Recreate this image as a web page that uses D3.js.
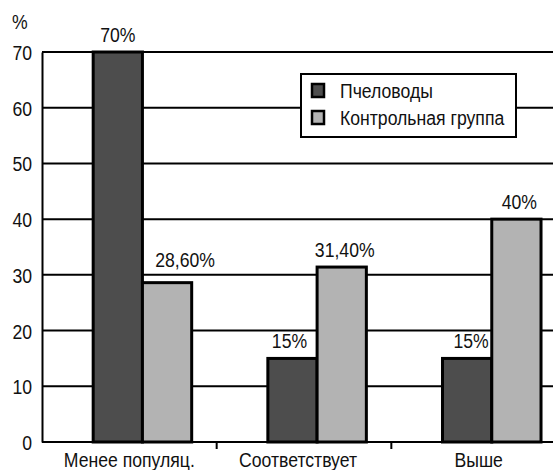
<!DOCTYPE html>
<html>
<head>
<meta charset="utf-8">
<script src="https://cdn.jsdelivr.net/npm/d3@7"></script>
<style>
  html, body { margin: 0; padding: 0; background: #fff; }
  svg { display: block; }
  text { font-family: "Liberation Sans", Arial, sans-serif; fill: #111; }
</style>
</head>
<body>
<svg id="chart" width="553" height="470"></svg>
<script>
// Categories and series
const categories = ["Менее популяц.", "Соответствует", "Выше"];
const seriesNames = ["Пчеловоды", "Контрольная группа"];
const beekeepers = [70, 15, 15];
const control = [28.6, 31.4, 40];
const beekeeperLabels = ["70%", "15%", "15%"];
const controlLabels = ["28,60%", "31,40%", "40%"];
const yTicks = [0, 10, 20, 30, 40, 50, 60, 70];

const colors = ["#4d4d4d", "#b3b3b3"];
const FS = 21;        // font size
const NARROW = 0.84;  // horizontal squeeze for a narrow typeface look

const svg = d3.select("#chart");
const margin = { left: 42, top: 52, bottom: 442 };
const plotRight = 566;

const x0 = d3.scaleBand().domain(categories).range([margin.left, plotRight]).padding(0);
const bw = x0.bandwidth();
const x1 = d3.scaleBand().domain(seriesNames).range([bw * 0.293, bw * 0.857]).padding(0);
const y = d3.scaleLinear().domain([0, 70]).range([margin.bottom, margin.top]);

// Place a narrow text item at (x, y)
function narrow(sel, fx, fy) {
  return sel.attr("x", 0).attr("y", 0)
    .attr("font-size", FS)
    .attr("transform", (d, i) => `translate(${fx(d, i)},${fy(d, i)}) scale(${NARROW},1)`);
}

// Horizontal gridlines
svg.append("g").selectAll("line")
  .data(yTicks.filter(d => d > 0))
  .join("line")
  .attr("x1", margin.left).attr("x2", 553)
  .attr("y1", d => y(d)).attr("y2", d => y(d))
  .attr("stroke", "#000").attr("stroke-width", 2);

// Y axis
const yAxis = d3.axisLeft(y).tickValues(yTicks).tickSize(0).tickPadding(10);
const gy = svg.append("g").attr("transform", `translate(${margin.left},0)`).call(yAxis);
gy.select(".domain").attr("stroke", "#000").attr("stroke-width", 2);
gy.selectAll(".tick text")
  .attr("font-family", null)
  .attr("fill", "#111")
  .attr("dy", "0.36em")
  .attr("font-size", FS)
  .attr("x", null)
  .attr("transform", `translate(-10,0) scale(${NARROW},1)`);

narrow(svg.append("text").datum("%").text("%"), () => 12, () => 29);

// Bars
const rows = categories.map((c, i) => ({ cat: c, vals: [beekeepers[i], control[i]] }));
const groups = svg.append("g").selectAll("g")
  .data(rows).join("g")
  .attr("transform", d => `translate(${x0(d.cat)},0)`);

groups.selectAll("rect")
  .data(d => d.vals.map((v, j) => ({ name: seriesNames[j], v, j })))
  .join("rect")
  .attr("x", d => x1(d.name))
  .attr("width", x1.bandwidth())
  .attr("y", d => y(d.v))
  .attr("height", d => y(0) - y(d.v))
  .attr("fill", d => colors[d.j])
  .attr("stroke", "#000").attr("stroke-width", 3);

// X axis along the bottom with boundary ticks between categories
const gx = svg.append("g");
gx.append("line").attr("x1", margin.left).attr("x2", 553)
  .attr("y1", y(0)).attr("y2", y(0)).attr("stroke", "#000").attr("stroke-width", 2);
gx.selectAll("line.tick")
  .data(categories.slice(1))
  .join("line").attr("class", "tick")
  .attr("x1", d => x0(d)).attr("x2", d => x0(d))
  .attr("y1", y(0)).attr("y2", y(0) + 7)
  .attr("stroke", "#000").attr("stroke-width", 2);
narrow(gx.selectAll("text").data(categories).join("text")
  .attr("text-anchor", "middle").text(d => d),
  (d, i) => x0(d) + bw / 2 + (i === 1 ? -6 : 0), () => 467);

// Value labels above bars (small nudges keep them clear of neighbouring bars)
const nudges = [[[0, 0], [18, -6]], [[-3, 0], [3, 0]], [[4, 0], [3, 0]]];
const labelData = [];
categories.forEach((c, i) => {
  [beekeepers[i], control[i]].forEach((v, j) => {
    labelData.push({
      x: x0(c) + x1(seriesNames[j]) + x1.bandwidth() / 2 + nudges[i][j][0],
      y: y(v) - 10 + nudges[i][j][1],
      t: j === 0 ? beekeeperLabels[i] : controlLabels[i]
    });
  });
});
narrow(svg.append("g").selectAll("text").data(labelData).join("text")
  .attr("text-anchor", "middle").text(d => d.t),
  d => d.x, d => d.y);

// Legend
const lg = svg.append("g").attr("transform", "translate(301,74)");
lg.append("rect").attr("width", 215).attr("height", 63)
  .attr("fill", "#fff").attr("stroke", "#000").attr("stroke-width", 2);
const items = lg.selectAll("g").data(seriesNames).join("g")
  .attr("transform", (d, i) => `translate(11,${10 + i * 27})`);
items.append("rect").attr("width", 12).attr("height", 13)
  .attr("fill", (d, i) => colors[i]).attr("stroke", "#000").attr("stroke-width", 2.5);
narrow(items.append("text").text(d => d), () => 28, () => 14);
</script>
</body>
</html>
